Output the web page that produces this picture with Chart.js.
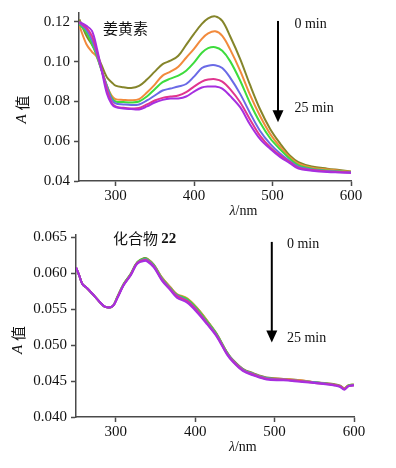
<!DOCTYPE html>
<html lang="zh">
  <head>
    <meta charset="UTF-8" />
    <meta name="viewport" content="width=device-width, initial-scale=1.0" />
    <title>UV spectra</title>
    <style>
      body {
        margin: 0;
        background-color: #ffffff;
      }
      .panel {
        position: absolute;
        left: 0;
        width: 396px;
      }
      #topPanel {
        top: 0;
        height: 222px;
      }
      #bottomPanel {
        top: 222px;
        height: 246px;
      }
    </style>
    <script src="https://cdn.jsdelivr.net/npm/chart.js"></script>
  </head>
  <body>
    <div class="panel" id="topPanel"><canvas id="curcuminChart"></canvas></div>
    <div class="panel" id="bottomPanel"><canvas id="compoundChart"></canvas></div>
    <script>
      // time points, one curve each
      const timeLabels = ["0 min", "5 min", "10 min", "15 min", "20 min", "25 min"];
      const seriesColors = ["#85852a", "#f28a3c", "#3ddc3d", "#6a6ae6", "#e0358f", "#a62fe0"];

      // 姜黄素 (curcumin)
      const curcuminLambda = [254, 263, 270, 276, 282, 289, 295, 300, 310, 320, 330, 340, 350, 360, 370, 380, 390, 400, 410, 418, 427, 436, 446, 459, 471, 484, 497, 510, 522, 533, 550, 570, 585, 600];
      const curcumin0 = [0.1213, 0.1130, 0.1085, 0.1040, 0.0985, 0.0922, 0.0897, 0.0880, 0.0872, 0.0868, 0.0878, 0.0910, 0.0950, 0.0988, 0.1005, 0.1030, 0.1085, 0.1140, 0.1190, 0.1218, 0.1228, 0.1205, 0.1128, 0.1012, 0.0887, 0.0762, 0.0662, 0.0587, 0.0528, 0.0495, 0.0473, 0.0462, 0.0455, 0.0448];
      const curcumin5 = [0.1180, 0.1088, 0.1050, 0.1025, 0.0960, 0.0880, 0.0830, 0.0812, 0.0808, 0.0806, 0.0812, 0.0845, 0.0885, 0.0930, 0.0950, 0.0975, 0.1020, 0.1065, 0.1115, 0.1142, 0.1153, 0.1130, 0.1062, 0.0953, 0.0837, 0.0728, 0.0637, 0.0570, 0.0520, 0.0487, 0.0467, 0.0458, 0.0452, 0.0446];
      const curcumin10 = [0.1188, 0.1147, 0.1090, 0.1030, 0.0960, 0.0880, 0.0820, 0.0800, 0.0797, 0.0795, 0.0800, 0.0825, 0.0862, 0.0897, 0.0915, 0.0930, 0.0955, 0.0995, 0.1045, 0.1068, 0.1073, 0.1055, 0.1003, 0.0903, 0.0795, 0.0695, 0.0615, 0.0558, 0.0512, 0.0480, 0.0462, 0.0453, 0.0449, 0.0445];
      const curcumin15 = [0.1195, 0.1160, 0.1110, 0.1040, 0.0960, 0.0875, 0.0812, 0.0790, 0.0785, 0.0782, 0.0785, 0.0805, 0.0830, 0.0855, 0.0865, 0.0875, 0.0888, 0.0925, 0.0968, 0.0980, 0.0982, 0.0968, 0.0920, 0.0837, 0.0745, 0.0653, 0.0587, 0.0537, 0.0500, 0.0472, 0.0458, 0.0450, 0.0447, 0.0443];
      const curcumin20 = [0.1198, 0.1170, 0.1130, 0.1055, 0.0965, 0.0860, 0.0795, 0.0775, 0.0768, 0.0765, 0.0767, 0.0785, 0.0805, 0.0818, 0.0825, 0.0830, 0.0847, 0.0875, 0.0900, 0.0910, 0.0912, 0.0900, 0.0862, 0.0795, 0.0712, 0.0628, 0.0570, 0.0528, 0.0495, 0.0466, 0.0455, 0.0448, 0.0445, 0.0442];
      const curcumin25 = [0.1200, 0.1180, 0.1155, 0.1072, 0.0965, 0.0840, 0.0788, 0.0772, 0.0765, 0.0762, 0.0760, 0.0775, 0.0795, 0.0808, 0.0815, 0.0815, 0.0825, 0.0850, 0.0870, 0.0875, 0.0875, 0.0865, 0.0828, 0.0770, 0.0687, 0.0612, 0.0562, 0.0520, 0.0490, 0.0462, 0.0452, 0.0445, 0.0443, 0.0441];

      // 化合物 22
      const compoundLambda = [250, 254, 258, 264, 270, 279, 287, 296, 302, 310, 319, 327, 336, 340, 348, 358, 369, 377, 390, 402, 415, 427, 440, 448, 460, 473, 490, 511, 532, 553, 574, 582, 588, 593, 600];
      const compound0 = [0.0608, 0.0597, 0.0585, 0.0579, 0.0572, 0.0561, 0.0553, 0.0554, 0.0567, 0.0585, 0.0599, 0.0615, 0.0621, 0.0620, 0.0612, 0.0594, 0.0580, 0.0570, 0.0564, 0.0552, 0.0534, 0.0516, 0.0490, 0.0479, 0.0467, 0.0461, 0.0455, 0.0453, 0.0451, 0.0448, 0.0446, 0.0444, 0.0440, 0.0444, 0.0445];
      const compound5 = [0.0608, 0.0597, 0.0585, 0.0579, 0.0572, 0.0561, 0.0553, 0.0554, 0.0566, 0.0584, 0.0598, 0.0614, 0.0619, 0.0619, 0.0611, 0.0594, 0.0580, 0.0571, 0.0565, 0.0552, 0.0534, 0.0515, 0.0490, 0.0478, 0.0466, 0.0460, 0.0454, 0.0453, 0.0451, 0.0448, 0.0445, 0.0443, 0.0440, 0.0444, 0.0445];
      const compound10 = [0.0608, 0.0597, 0.0585, 0.0579, 0.0572, 0.0561, 0.0553, 0.0554, 0.0567, 0.0585, 0.0599, 0.0615, 0.0620, 0.0619, 0.0611, 0.0593, 0.0579, 0.0570, 0.0564, 0.0551, 0.0533, 0.0515, 0.0490, 0.0478, 0.0466, 0.0460, 0.0454, 0.0452, 0.0450, 0.0448, 0.0445, 0.0443, 0.0439, 0.0444, 0.0445];
      const compound15 = [0.0608, 0.0597, 0.0585, 0.0579, 0.0572, 0.0561, 0.0553, 0.0554, 0.0566, 0.0584, 0.0598, 0.0614, 0.0619, 0.0618, 0.0610, 0.0592, 0.0578, 0.0569, 0.0562, 0.0549, 0.0531, 0.0514, 0.0489, 0.0478, 0.0466, 0.0460, 0.0454, 0.0452, 0.0450, 0.0448, 0.0445, 0.0443, 0.0439, 0.0443, 0.0444];
      const compound20 = [0.0608, 0.0597, 0.0585, 0.0579, 0.0572, 0.0561, 0.0553, 0.0554, 0.0566, 0.0584, 0.0598, 0.0614, 0.0618, 0.0617, 0.0609, 0.0591, 0.0577, 0.0568, 0.0561, 0.0548, 0.0530, 0.0513, 0.0488, 0.0477, 0.0465, 0.0459, 0.0453, 0.0452, 0.0450, 0.0447, 0.0445, 0.0443, 0.0439, 0.0443, 0.0444];
      const compound25 = [0.0608, 0.0597, 0.0585, 0.0579, 0.0572, 0.0561, 0.0553, 0.0554, 0.0565, 0.0583, 0.0597, 0.0613, 0.0617, 0.0616, 0.0608, 0.0590, 0.0576, 0.0566, 0.0559, 0.0546, 0.0529, 0.0512, 0.0487, 0.0476, 0.0464, 0.0458, 0.0452, 0.0451, 0.0449, 0.0447, 0.0444, 0.0442, 0.0438, 0.0443, 0.0444];

      // tick labels
      const lambdaTicks = [300, 400, 500, 600];
      const curcuminYTicks = [0.04, 0.06, 0.08, 0.1, 0.12];
      const compoundYTicks = [0.04, 0.045, 0.05, 0.055, 0.06, 0.065];

      const serif = "'Liberation Serif', 'Times New Roman', serif";
      const cjk = "'Noto Sans CJK SC', sans-serif";
      const axisColor = "#4a4a4a";

      function makeDatasets(lambda, series) {
        return series.map((values, i) => ({
          label: timeLabels[i],
          data: values.map((v, j) => ({ x: lambda[j], y: v })),
          borderColor: seriesColors[i],
          backgroundColor: seriesColors[i],
          borderWidth: 2,
          pointRadius: 0,
          tension: 0.35,
          order: series.length - i // last time point drawn on top
        }));
      }

      // extra text + arrow, placed in data coordinates
      const notesPlugin = {
        id: "notes",
        afterDraw(chart, args, opts) {
          const { ctx, chartArea } = chart;
          const x = chart.scales.x;
          const y = chart.scales.y;
          ctx.save();
          ctx.fillStyle = "#111";
          ctx.textBaseline = "middle";

          // sample name
          ctx.textAlign = "left";
          let px = x.getPixelForValue(opts.name.x);
          const py = y.getPixelForValue(opts.name.y);
          ctx.font = "15px " + cjk;
          ctx.fillText(opts.name.text, px, py);
          if (opts.name.bold) {
            px += ctx.measureText(opts.name.text + " ").width;
            ctx.font = "bold 15px " + serif;
            ctx.fillText(opts.name.bold, px, py + 1);
          }

          // time labels
          ctx.font = "14px " + serif;
          ctx.fillText("0 min", x.getPixelForValue(opts.textX), y.getPixelForValue(opts.startY));
          ctx.fillText("25 min", x.getPixelForValue(opts.textX), y.getPixelForValue(opts.endY));

          // arrow
          const ax = x.getPixelForValue(opts.arrowX);
          const ay0 = y.getPixelForValue(opts.arrowFrom);
          const ay1 = y.getPixelForValue(opts.arrowTo);
          ctx.strokeStyle = "#000";
          ctx.fillStyle = "#000";
          ctx.lineWidth = 2;
          ctx.beginPath();
          ctx.moveTo(ax, ay0);
          ctx.lineTo(ax, ay1 - 10);
          ctx.stroke();
          ctx.beginPath();
          ctx.moveTo(ax - 5.5, ay1 - 12);
          ctx.lineTo(ax + 5.5, ay1 - 12);
          ctx.lineTo(ax, ay1);
          ctx.closePath();
          ctx.fill();

          // axis titles
          ctx.fillStyle = "#111";
          const tx = x.getPixelForValue(opts.xTitleAt);
          const ty = chartArea.bottom + 30;
          ctx.font = "italic 14px " + serif;
          const wL = ctx.measureText("λ").width;
          ctx.font = "14px " + serif;
          const wRest = ctx.measureText("/nm").width;
          ctx.textAlign = "left";
          ctx.font = "italic 14px " + serif;
          ctx.fillText("λ", tx - (wL + wRest) / 2, ty);
          ctx.font = "14px " + serif;
          ctx.fillText("/nm", tx - (wL + wRest) / 2 + wL, ty);

          ctx.translate(chartArea.left - opts.yTitleOffset, y.getPixelForValue(opts.yTitleAt));
          ctx.rotate(-Math.PI / 2);
          ctx.font = "italic 15px " + serif;
          const wA = ctx.measureText("A ").width;
          ctx.font = "15px " + cjk;
          const wZ = ctx.measureText("值").width;
          ctx.font = "italic 15px " + serif;
          ctx.fillText("A", -(wA + wZ) / 2, 0);
          ctx.font = "15px " + cjk;
          ctx.fillText("值", -(wA + wZ) / 2 + wA, 0);
          ctx.restore();
        }
      };

      function makeConfig(p) {
        return {
          type: "line",
          data: { datasets: makeDatasets(p.lambda, p.series) },
          plugins: [notesPlugin],
          options: {
            responsive: true,
            maintainAspectRatio: false,
            animation: false,
            layout: { padding: p.padding },
            plugins: {
              legend: { display: false },
              tooltip: { enabled: false },
              notes: p.notes
            },
            scales: {
              x: {
                type: "linear",
                min: p.xMin,
                max: 600,
                afterBuildTicks: (s) => { s.ticks = lambdaTicks.map((v) => ({ value: v })); },
                afterFit: (s) => { s.height = p.xHeight; },
                grid: { drawOnChartArea: false, drawTicks: true, tickLength: 5, tickColor: axisColor, tickWidth: 1.5 },
                border: { display: true, color: axisColor, width: 1.5 },
                ticks: { color: "#111", padding: 1, maxRotation: 0, font: { family: serif, size: 15 } }
              },
              y: {
                min: p.yMin,
                max: p.yMax,
                afterBuildTicks: (s) => { s.ticks = p.yTicks.map((v) => ({ value: v })); },
                afterFit: (s) => { s.width = p.yWidth; },
                grid: { drawOnChartArea: false, drawTicks: true, tickLength: 5, tickColor: axisColor, tickWidth: 1.5 },
                border: { display: true, color: axisColor, width: 1.5 },
                ticks: {
                  color: "#111",
                  padding: 4,
                  font: { family: serif, size: 15 },
                  callback: (v) => v.toFixed(p.decimals)
                }
              }
            }
          }
        };
      }

      new Chart(document.getElementById("curcuminChart"), makeConfig({
        lambda: curcuminLambda,
        series: [curcumin0, curcumin5, curcumin10, curcumin15, curcumin20, curcumin25],
        xMin: 253.5, yMin: 0.04, yMax: 0.1245,
        yTicks: curcuminYTicks, decimals: 2,
        padding: { top: 12, right: 45, left: 0, bottom: 0 },
        xHeight: 41, yWidth: 79,
        notes: {
          name: { text: "姜黄素", x: 284, y: 0.117 },
          textX: 528, startY: 0.119, endY: 0.0765,
          arrowX: 507, arrowFrom: 0.1205, arrowTo: 0.0695,
          xTitleAt: 463, yTitleAt: 0.076, yTitleOffset: 57
        }
      }));

      new Chart(document.getElementById("compoundChart"), makeConfig({
        lambda: compoundLambda,
        series: [compound0, compound5, compound10, compound15, compound20, compound25],
        xMin: 250, yMin: 0.04, yMax: 0.0653,
        yTicks: compoundYTicks, decimals: 3,
        padding: { top: 11, right: 42, left: 0, bottom: 0 },
        xHeight: 51, yWidth: 76,
        notes: {
          name: { text: "化合物", bold: "22", x: 296.5, y: 0.0649 },
          textX: 515.5, startY: 0.06397, endY: 0.05096,
          arrowX: 496.5, arrowFrom: 0.06434, arrowTo: 0.05035,
          xTitleAt: 460, yTitleAt: 0.0507, yTitleOffset: 58
        }
      }));
    </script>
  </body>
</html>
